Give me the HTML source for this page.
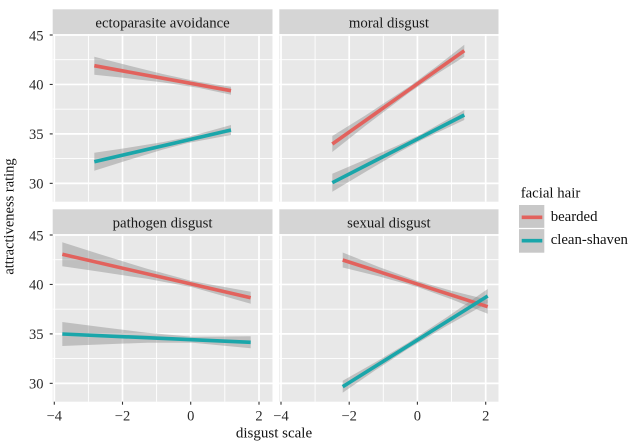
<!DOCTYPE html>
<html>
<head>
<meta charset="utf-8">
<style>
html,body{margin:0;padding:0;background:#fff;}
svg{display:block;}
text{font-family:"Liberation Serif","Times New Roman",serif;}
</style>
</head>
<body>
<svg width="634" height="443" viewBox="0 0 634 443" xmlns="http://www.w3.org/2000/svg">
<rect x="0" y="0" width="634" height="443" fill="#fff"/>

<defs>
<g id="grid">
  <!-- minor horizontal -->
  <g stroke="#fff" stroke-width="0.9">
    <line x1="0" x2="220" y1="59.7" y2="59.7"/>
    <line x1="0" x2="220" y1="109.2" y2="109.2"/>
    <line x1="0" x2="220" y1="158.6" y2="158.6"/>
    <line x1="35.7" x2="35.7" y1="34" y2="201.7"/>
    <line x1="103.9" x2="103.9" y1="34" y2="201.7"/>
    <line x1="172.1" x2="172.1" y1="34" y2="201.7"/>
  </g>
  <g stroke="#fff" stroke-width="1.7">
    <line x1="0" x2="220" y1="35" y2="35"/>
    <line x1="0" x2="220" y1="84.45" y2="84.45"/>
    <line x1="0" x2="220" y1="133.9" y2="133.9"/>
    <line x1="0" x2="220" y1="183.35" y2="183.35"/>
    <line x1="1.6" x2="1.6" y1="34" y2="201.7"/>
    <line x1="69.8" x2="69.8" y1="34" y2="201.7"/>
    <line x1="138" x2="138" y1="34" y2="201.7"/>
    <line x1="206.3" x2="206.3" y1="34" y2="201.7"/>
  </g>
</g>
</defs>

<!-- Panel backgrounds and strips -->
<g>
  <rect x="52.7" y="9.3" width="219.8" height="24.7" fill="#D5D5D5"/>
  <rect x="279.3" y="9.3" width="219.2" height="24.7" fill="#D5D5D5"/>
  <rect x="52.7" y="209.3" width="219.8" height="24.7" fill="#D5D5D5"/>
  <rect x="279.3" y="209.3" width="219.2" height="24.7" fill="#D5D5D5"/>

  <rect x="52.7" y="34" width="219.8" height="167.7" fill="#E8E8E8"/>
  <rect x="279.3" y="34" width="219.2" height="167.7" fill="#E8E8E8"/>
  <rect x="52.7" y="234" width="219.8" height="167.7" fill="#E8E8E8"/>
  <rect x="279.3" y="234" width="219.2" height="167.7" fill="#E8E8E8"/>
</g>

<!-- Grids -->
<use href="#grid" transform="translate(52.7,0)"/>
<use href="#grid" transform="translate(279.4,0)"/>
<use href="#grid" transform="translate(52.7,200)"/>
<use href="#grid" transform="translate(279.4,200)"/>

<!-- Strip labels -->
<g font-size="14.8" fill="#1a1a1a" text-anchor="middle">
  <text x="162.6" y="27.3">ectoparasite avoidance</text>
  <text x="388.9" y="27.3">moral disgust</text>
  <text x="162.6" y="227.3">pathogen disgust</text>
  <text x="388.9" y="227.3">sexual disgust</text>
</g>

<!-- Ribbons -->
<g fill="#8f8f8f" fill-opacity="0.45">
  <polygon points="94.3,56.7 128.5,65.55 162.7,74.0 198.2,81.7 231,86.7 231,94.7 198.2,87.7 162.7,82.4 128.5,78.35 94.3,74.7"/>
  <polygon points="94.3,152.7 128.5,147.65 162.7,142.1 187.3,137.1 231,125 231,135 187.3,143.1 162.7,149.6 128.5,159.95 94.3,170.7"/>
  <polygon points="332.3,136 365.3,115.5 409.9,86.1 437.9,65.4 464.3,44.7 464.3,56.7 437.9,73.4 409.9,92.1 365.3,125.9 332.3,152"/>
  <polygon points="332.3,173.7 365.3,159.65 398.3,145.1 422.1,133.7 464.3,110 464.3,120 422.1,139.7 398.3,152.6 365.3,171.95 332.3,191.7"/>
  <polygon points="62.3,242.3 100,254.2 147.1,268.8 192.5,281.3 250.7,291.7 250.7,303.7 192.5,287.3 147.1,278.8 100,271.8 62.3,266.3"/>
  <polygon points="62.3,322 100,326.9 147.1,332.7 192.5,336.7 250.7,336.3 250.7,348.3 192.5,342.7 147.1,342.7 100,344.5 62.3,346"/>
  <polygon points="342.7,252.5 378.95,267.0 418.2,281.3 451.45,290.7 487.7,299.7 487.7,313.7 451.45,299.3 418.2,287.3 378.95,276.4 342.7,267.5"/>
  <polygon points="342.7,380.7 375.3,362.3 408.1,342.8 447.8,316.55 487.7,289 487.7,303 447.8,325.25 408.1,348.8 375.3,370.3 342.7,392.7"/>
</g>

<!-- Lines -->
<g stroke-width="3.6" stroke-linecap="butt" fill="none">
  <line x1="94.3" y1="65.7" x2="231" y2="90.7" stroke="#E2625D"/>
  <line x1="94.3" y1="161.7" x2="231" y2="130" stroke="#1AA6AA"/>
  <line x1="332.3" y1="144" x2="464.3" y2="50.7" stroke="#E2625D"/>
  <line x1="332.3" y1="182.7" x2="464.3" y2="115" stroke="#1AA6AA"/>
  <line x1="62.3" y1="254.3" x2="250.7" y2="297.7" stroke="#E2625D"/>
  <line x1="62.3" y1="334" x2="250.7" y2="342.3" stroke="#1AA6AA"/>
  <line x1="342.7" y1="260" x2="487.7" y2="306.7" stroke="#E2625D"/>
  <line x1="342.7" y1="386.7" x2="487.7" y2="296" stroke="#1AA6AA"/>
</g>

<!-- Y axis ticks -->
<g stroke="#333" stroke-width="1.1">
  <line x1="49.7" x2="52.7" y1="35" y2="35"/>
  <line x1="49.7" x2="52.7" y1="84.45" y2="84.45"/>
  <line x1="49.7" x2="52.7" y1="133.9" y2="133.9"/>
  <line x1="49.7" x2="52.7" y1="183.35" y2="183.35"/>
  <line x1="49.7" x2="52.7" y1="235" y2="235"/>
  <line x1="49.7" x2="52.7" y1="284.45" y2="284.45"/>
  <line x1="49.7" x2="52.7" y1="333.9" y2="333.9"/>
  <line x1="49.7" x2="52.7" y1="383.35" y2="383.35"/>
  <!-- X axis ticks -->
  <line x1="54.3" x2="54.3" y1="401.7" y2="404.7"/>
  <line x1="122.5" x2="122.5" y1="401.7" y2="404.7"/>
  <line x1="190.7" x2="190.7" y1="401.7" y2="404.7"/>
  <line x1="259" x2="259" y1="401.7" y2="404.7"/>
  <line x1="281" x2="281" y1="401.7" y2="404.7"/>
  <line x1="349.2" x2="349.2" y1="401.7" y2="404.7"/>
  <line x1="417.4" x2="417.4" y1="401.7" y2="404.7"/>
  <line x1="485.7" x2="485.7" y1="401.7" y2="404.7"/>
</g>

<!-- Y tick labels -->
<g font-size="14.5" fill="#2b2b2b" text-anchor="end">
  <text x="43.5" y="40.3">45</text>
  <text x="43.5" y="89.7">40</text>
  <text x="43.5" y="139.2">35</text>
  <text x="43.5" y="188.6">30</text>
  <text x="43.5" y="240.3">45</text>
  <text x="43.5" y="289.7">40</text>
  <text x="43.5" y="339.2">35</text>
  <text x="43.5" y="388.6">30</text>
</g>

<!-- X tick labels -->
<g font-size="14.5" fill="#2b2b2b" text-anchor="middle">
  <text x="54.3" y="420.5">−4</text>
  <text x="122.5" y="420.5">−2</text>
  <text x="190.7" y="420.5">0</text>
  <text x="259" y="420.5">2</text>
  <text x="281" y="420.5">−4</text>
  <text x="349.2" y="420.5">−2</text>
  <text x="417.4" y="420.5">0</text>
  <text x="485.7" y="420.5">2</text>
</g>

<!-- Axis titles -->
<text x="274" y="437.5" font-size="15" fill="#111" text-anchor="middle">disgust scale</text>
<text transform="translate(13.5,216.5) rotate(-90)" font-size="14.5" fill="#111" text-anchor="middle">attractiveness rating</text>

<!-- Legend -->
<text x="520.7" y="197.3" font-size="14.8" fill="#111">facial hair</text>
<rect x="519" y="205" width="25.3" height="23.3" fill="#C8C8C8"/>
<rect x="519" y="228.3" width="25.3" height="24.4" fill="#C8C8C8"/>
<line x1="519" x2="544.3" y1="228.5" y2="228.5" stroke="#fff" stroke-width="1.2"/>
<line x1="521.7" x2="542.3" y1="217.3" y2="217.3" stroke="#E2625D" stroke-width="3.6"/>
<line x1="521.7" x2="542.3" y1="240.7" y2="240.7" stroke="#1AA6AA" stroke-width="3.6"/>
<text x="550.7" y="221" font-size="14.8" fill="#111">bearded</text>
<text x="550.7" y="244.2" font-size="14.8" fill="#111">clean-shaven</text>
</svg>
</body>
</html>
